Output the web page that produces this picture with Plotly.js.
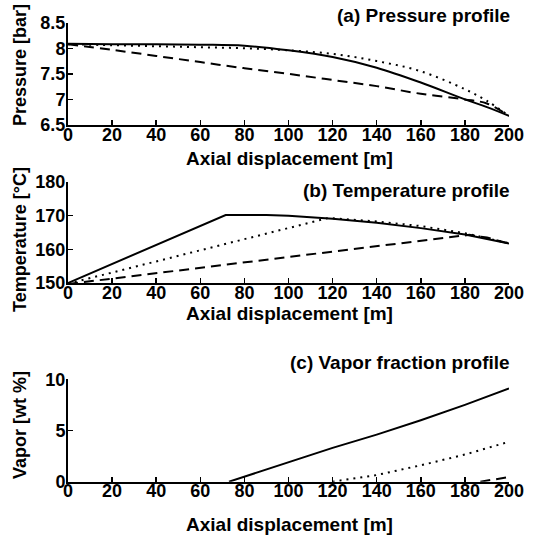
<!DOCTYPE html>
<html>
<head>
<meta charset="utf-8">
<script src="https://cdn.plot.ly/plotly-3.0.1.min.js"></script>
<style>html,body{margin:0;padding:0;background:#fff;}#chart{width:538px;height:535px;}</style>
</head>
<body>
<div id="chart"></div>
<script>
// ---- data ----
const xTicks = [0, 20, 40, 60, 80, 100, 120, 140, 160, 180, 200];

// (a) Pressure profile [bar]
const xP = [0, 20, 40, 60, 80, 100, 120, 140, 160, 180, 190, 200];
const pSolid  = [8.09, 8.08, 8.08, 8.07, 8.05, 7.96, 7.83, 7.62, 7.33, 7.00, 6.85, 6.68];
const pDotted = [8.08, 8.06, 8.04, 8.02, 8.00, 7.96, 7.89, 7.75, 7.55, 7.20, 6.97, 6.68];
const pDashed = [8.08, 7.97, 7.85, 7.73, 7.61, 7.50, 7.38, 7.26, 7.11, 7.00, 6.92, 6.68];
const pTickVals = [6.5, 7, 7.5, 8, 8.5];
const pTickText = ['6.5', '7', '7.5', '8', '8.5'];

// (b) Temperature profile [°C]
const tSolidX  = [0, 71.5, 90, 100, 120, 140, 160, 180, 200];
const tSolid   = [150, 170.2, 170.2, 170.0, 169.1, 167.9, 166.3, 164.4, 161.7];
const tDottedX = [0, 118, 140, 160, 180, 200];
const tDotted  = [149.8, 169.3, 168.3, 166.9, 164.8, 161.8];
const tDashedX = [0, 182, 190, 200];
const tDashed  = [149.7, 164.3, 163.5, 161.7];
const tTickVals = [150, 160, 170, 180];

// (c) Vapor fraction profile [wt %] (zero before each curve leaves the axis)
const vSolidX  = [73, 85, 100, 120, 140, 160, 180, 200];
const vSolid   = [0, 0.85, 1.9, 3.3, 4.6, 6.0, 7.5, 9.1];
const vDottedX = [120, 140, 160, 180, 200];
const vDotted  = [0, 0.65, 1.6, 2.65, 3.9];
const vDashedX = [187, 200];
const vDashed  = [0, 0.45];
const vTickVals = [0, 5, 10];

const titles = ['(a) Pressure profile', '(b) Temperature profile', '(c) Vapor fraction profile'];
const yTitles = ['Pressure [bar]', 'Temperature [°C]', 'Vapor [wt %]'];
const xTitle = 'Axial displacement [m]';

// ---- styling ----
const FONT = 'Liberation Sans, Arial, Helvetica, sans-serif';
const SOLID = {color: '#000', width: 2, dash: 'solid'};
const DOT = {color: '#000', width: 2, dash: '2px,5px'};
const DASH = {color: '#000', width: 2, dash: '10px,6px'};

function tr(x, y, line, ax, shape) {
  return {x: x, y: y, type: 'scatter', mode: 'lines', line: Object.assign({shape: shape || 'linear'}, line),
          xaxis: 'x' + ax, yaxis: 'y' + ax, showlegend: false, hoverinfo: 'skip'};
}

const data = [
  tr(xP, pSolid, SOLID, '', 'spline'),
  tr(xP, pDotted, DOT, '', 'spline'),
  tr(xP, pDashed, DASH, '', 'spline'),
  tr(tSolidX, tSolid, SOLID, '2'),
  tr(tDottedX, tDotted, DOT, '2'),
  tr(tDashedX, tDashed, DASH, '2'),
  tr(vSolidX, vSolid, SOLID, '3'),
  tr(vDottedX, vDotted, DOT, '3'),
  tr(vDashedX, vDashed, DASH, '3')
];

const W = 538, H = 535;
const xDom = [68 / W, 509 / W];
function yd(topPx, botPx) { return [(H - botPx) / H, (H - topPx) / H]; }

const tickFont = {family: FONT, size: 18, color: '#000', weight: 'bold'};
function xa(anchor) {
  return {domain: xDom, anchor: anchor, range: [0, 200], tickmode: 'array', tickvals: xTicks,
          ticks: 'inside', ticklen: 5, tickwidth: 1.5, tickcolor: '#000', ticklabelstandoff: -8,
          showline: true, linewidth: 2, linecolor: '#000', showgrid: false, zeroline: false,
          tickfont: tickFont, automargin: false, fixedrange: true};
}
function ya(anchor, dom, range, vals, text) {
  const o = {domain: dom, anchor: anchor, range: range, tickmode: 'array', tickvals: vals,
          ticks: 'inside', ticklen: 5, tickwidth: 1.5, tickcolor: '#000', ticklabelstandoff: -3,
          showline: true, linewidth: 2, linecolor: '#000', showgrid: false, zeroline: false,
          tickfont: tickFont, automargin: false, fixedrange: true};
  if (text) o.ticktext = text;
  return o;
}

function ann(text, xpx, ypx, opts) {
  return Object.assign({text: text, xref: 'paper', yref: 'paper', x: xpx / W, y: (H - ypx) / H,
          showarrow: false, xanchor: 'center', yanchor: 'middle',
          font: {family: FONT, size: 19, color: '#000', weight: 'bold'}}, opts || {});
}
const yFont = {family: FONT, size: 18, color: '#000', weight: 'bold'};

const annotations = [
  ann(titles[0], 512, 15, {xanchor: 'right'}),
  ann(titles[1], 512, 190, {xanchor: 'right'}),
  ann(titles[2], 512, 362, {xanchor: 'right'}),
  ann(xTitle, 289, 158),
  ann(xTitle, 289, 314),
  ann(xTitle, 289, 524),
  ann(yTitles[0], 20, 65, {textangle: -90, font: yFont}),
  ann(yTitles[1], 20, 240, {textangle: -90, font: yFont}),
  ann(yTitles[2], 20, 425, {textangle: -90, font: yFont})
];

const layout = {
  width: W, height: H,
  margin: {l: 0, r: 0, t: 0, b: 0, pad: 0},
  paper_bgcolor: '#fff', plot_bgcolor: '#fff',
  showlegend: false,
  xaxis: xa('y'),
  yaxis: ya('x', yd(22.7, 125), [6.5, 8.5], pTickVals, pTickText),
  xaxis2: xa('y2'),
  yaxis2: ya('x2', yd(182, 283), [150, 180], tTickVals),
  xaxis3: xa('y3'),
  yaxis3: ya('x3', yd(379.3, 481.7), [0, 10], vTickVals),
  annotations: annotations
};

Plotly.newPlot('chart', data, layout, {displayModeBar: false, staticPlot: true});
</script>
</body>
</html>
